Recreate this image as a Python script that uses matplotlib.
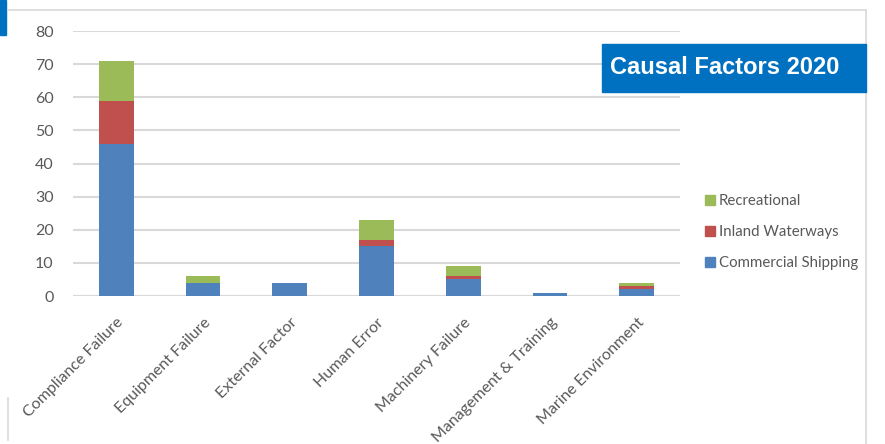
import numpy as np
import matplotlib.pyplot as plt
from matplotlib.patches import Rectangle
from matplotlib.lines import Line2D

categories = ["Compliance Failure", "Equipment Failure", "External Factor", "Human Error",
              "Machinery Failure", "Management & Training", "Marine Environment"]
commercial = [46, 4, 4, 15, 5, 1, 2]
inland = [13, 0, 0, 2, 1, 0, 1]
recreational = [12, 2, 0, 6, 3, 0, 1]

blue, red, green = "#4F81BD", "#C0504D", "#9BBB59"
grey_text = "#595959"
grid_col = "#D9D9D9"

plt.rcParams['font.family'] = ['Lato', 'DejaVu Sans']

fig = plt.figure(figsize=(8.85, 4.44), dpi=100)
ax = fig.add_axes([73/885, 1 - 296/444, (680 - 73)/885, (296 - 31)/444])

x = np.arange(len(categories))
w = 0.4
com = np.array(commercial)
inl = np.array(inland)
rec = np.array(recreational)
ax.bar(x, com, w, color=blue, zorder=3)
ax.bar(x, inl, w, bottom=com, color=red, zorder=3)
ax.bar(x, rec, w, bottom=com + inl, color=green, zorder=3)

ax.set_xlim(-0.5, len(categories) - 0.5)
ax.set_ylim(0, 80)
ax.set_yticks(range(0, 81, 10))
ax.yaxis.grid(True, color=grid_col, linewidth=1.5, zorder=0)
for s in ax.spines.values():
    s.set_visible(False)
ax.axhline(0, color=grid_col, linewidth=1.5, zorder=2)
ax.tick_params(axis='both', length=0, labelsize=11.5, colors=grey_text)
ax.tick_params(axis='y', pad=14)
ax.set_xticks(x)
ax.set_xticklabels(categories, rotation=45, ha='right', rotation_mode='anchor')
ax.tick_params(axis='x', pad=14)

# legend, top entry first
handles = [Line2D([], [], marker='s', linestyle='', color=c, markersize=7)
           for c in (green, red, blue)]
leg = fig.legend(handles, ["Recreational", "Inland Waterways", "Commercial Shipping"],
                 loc='upper left', bbox_to_anchor=(698/885, 1 - 188/444), frameon=False,
                 fontsize=10.8, labelspacing=1.15, handlelength=0.8, handletextpad=0.2,
                 borderaxespad=0)
for t in leg.get_texts():
    t.set_color(grey_text)

# title box
fig.patches.append(Rectangle((602/885, 1 - 92/444), 264/885, 48/444,
                             transform=fig.transFigure, color="#0070C0", zorder=5))
fig.text(610/885, 1 - 68/444, "Causal Factors 2020", color="white", fontsize=17,
         fontweight='bold', va='center', ha='left', zorder=6,
         family=['Liberation Sans', 'DejaVu Sans'])

# outer frame and corner marks
fig.add_artist(Line2D([8/885, 866/885], [1 - 10/444, 1 - 10/444],
                      transform=fig.transFigure, color="#D9D9D9", linewidth=1.2))
fig.add_artist(Line2D([866/885, 866/885], [1 - 10/444, 0],
                      transform=fig.transFigure, color="#D9D9D9", linewidth=1.2))
fig.add_artist(Line2D([8/885, 8/885], [1 - 398/444, 1 - 440/444],
                      transform=fig.transFigure, color="#D9D9D9", linewidth=1.2))
fig.patches.append(Rectangle((0, 1 - 35/444), 6/885, 35/444,
                             transform=fig.transFigure, color="#0070C0"))

fig.savefig("out.png", dpi=100)
